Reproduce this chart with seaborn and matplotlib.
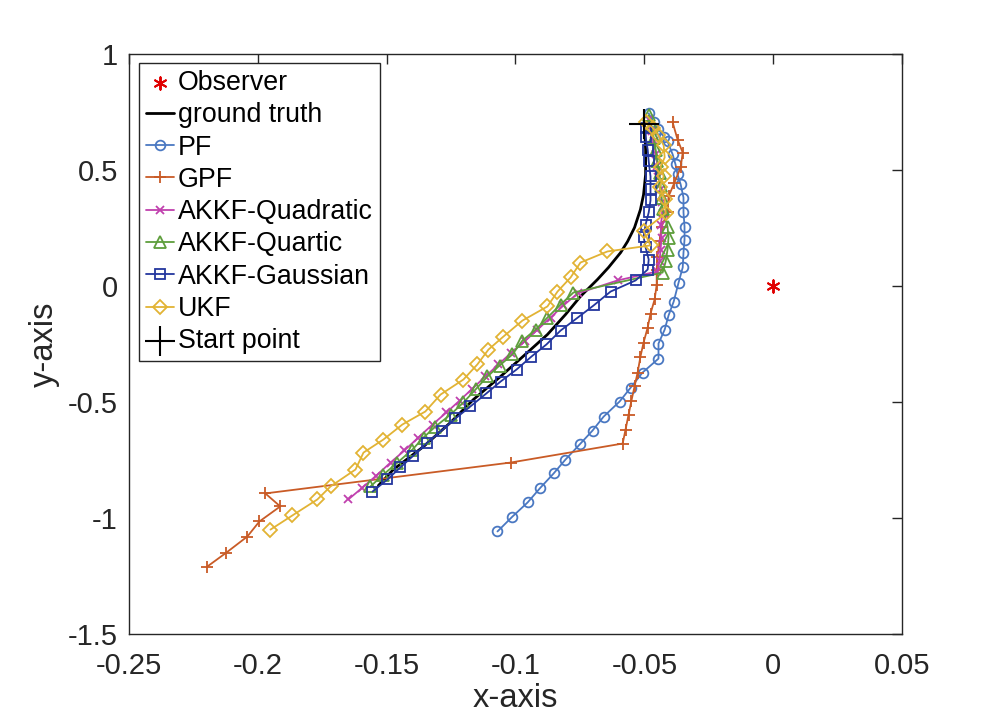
import matplotlib
matplotlib.use("Agg")
import matplotlib.pyplot as plt
import seaborn as sns
import pandas as pd

# ---------------- data ----------------
observer_x = [0.0]
observer_y = [0.0]

start_x = [-0.050]
start_y = [0.700]

gt_x = [-0.0500, -0.0495, -0.0495, -0.0503, -0.0515, -0.0538, -0.0565, -0.0592, -0.0639, -0.0682,
        -0.0748, -0.0806, -0.0876, -0.0954, -0.1058, -0.1163, -0.1252, -0.1357, -0.1474, -0.1532]
gt_y = [0.700, 0.588, 0.481, 0.394, 0.330, 0.252, 0.192, 0.144, 0.080, 0.028,
        -0.045, -0.123, -0.209, -0.287, -0.390, -0.489, -0.588, -0.692, -0.791, -0.860]

pf_x = [-0.0483, -0.0464, -0.0445, -0.0425, -0.0410, -0.0390, -0.0379, -0.0371, -0.0359, -0.0348,
        -0.0348, -0.0344, -0.0344, -0.0348, -0.0351, -0.0367, -0.0386, -0.0406, -0.0421, -0.0445,
        -0.0445, -0.0507, -0.0553, -0.0596, -0.0658, -0.0701, -0.0751, -0.0806, -0.0852, -0.0903,
        -0.0953, -0.1012, -0.1070]
pf_y = [0.744, 0.705, 0.675, 0.644, 0.623, 0.567, 0.524, 0.481, 0.438, 0.381,
        0.317, 0.256, 0.200, 0.144, 0.080, 0.015, -0.067, -0.127, -0.188, -0.248,
        -0.313, -0.373, -0.438, -0.498, -0.563, -0.623, -0.683, -0.748, -0.808, -0.869,
        -0.933, -0.994, -1.058]

gpf_x = [-0.0390, -0.0371, -0.0351, -0.0359, -0.0383, -0.0406, -0.0410, -0.0433, -0.0441, -0.0449,
         -0.0452, -0.0452, -0.0460, -0.0476, -0.0487, -0.0503, -0.0515, -0.0526, -0.0538, -0.0550,
         -0.0561, -0.0573, -0.0584, -0.1019, -0.1971, -0.1913, -0.1994, -0.2041, -0.2122, -0.2196]
gpf_y = [0.705, 0.631, 0.575, 0.511, 0.446, 0.386, 0.317, 0.256, 0.192, 0.127,
         0.067, 0.006, -0.058, -0.119, -0.179, -0.244, -0.304, -0.373, -0.433, -0.494,
         -0.554, -0.619, -0.679, -0.761, -0.894, -0.950, -1.015, -1.080, -1.149, -1.209]

quad_x = [-0.0483, -0.0472, -0.0464, -0.0456, -0.0449, -0.0445, -0.0437, -0.0433, -0.0429, -0.0437,
          -0.0433, -0.0437, -0.0441, -0.0449, -0.0604, -0.0759, -0.0814, -0.0864, -0.0915, -0.0965,
          -0.1016, -0.1066, -0.1117, -0.1167, -0.1217, -0.1268, -0.1322, -0.1377, -0.1431, -0.1485,
          -0.1540, -0.1594, -0.1649]
quad_y = [0.718, 0.670, 0.623, 0.571, 0.519, 0.468, 0.416, 0.364, 0.313, 0.261,
          0.209, 0.157, 0.106, 0.063, 0.024, -0.032, -0.084, -0.136, -0.188, -0.239,
          -0.287, -0.338, -0.390, -0.442, -0.494, -0.545, -0.597, -0.653, -0.709, -0.761,
          -0.817, -0.869, -0.920]

quart_x = [-0.0483, -0.0472, -0.0464, -0.0456, -0.0449, -0.0441, -0.0437, -0.0433, -0.0429, -0.0410,
           -0.0406, -0.0410, -0.0417, -0.0429, -0.0775, -0.0825, -0.0876, -0.0922, -0.0973, -0.1012,
           -0.1062, -0.1109, -0.1155, -0.1202, -0.1252, -0.1311, -0.1357, -0.1400, -0.1458, -0.1513,
           -0.1563]
quart_y = [0.735, 0.688, 0.640, 0.588, 0.537, 0.485, 0.433, 0.381, 0.330, 0.256,
           0.209, 0.157, 0.106, 0.058, -0.028, -0.080, -0.136, -0.188, -0.235, -0.295,
           -0.343, -0.390, -0.446, -0.502, -0.554, -0.606, -0.653, -0.705, -0.761, -0.813,
           -0.864]

gauss_x = [-0.0495, -0.0495, -0.0487, -0.0483, -0.0476, -0.0476, -0.0476, -0.0483, -0.0495, -0.0503,
           -0.0495, -0.0483, -0.0487, -0.0534, -0.0631, -0.0697, -0.0763, -0.0825, -0.0880, -0.0938,
           -0.0996, -0.1058, -0.1113, -0.1175, -0.1233, -0.1287, -0.1342, -0.1396, -0.1447, -0.1497,
           -0.1555]
gauss_y = [0.683, 0.644, 0.588, 0.537, 0.472, 0.416, 0.369, 0.317, 0.265, 0.213,
           0.166, 0.114, 0.071, 0.024, -0.024, -0.084, -0.140, -0.192, -0.252, -0.304,
           -0.360, -0.412, -0.463, -0.519, -0.571, -0.623, -0.675, -0.731, -0.782, -0.834,
           -0.886]

ukf_x = [-0.0495, -0.0468, -0.0445, -0.0425, -0.0421, -0.0437, -0.0425, -0.0441, -0.0421, -0.0417,
         -0.0503, -0.0476, -0.0643, -0.0748, -0.0786, -0.0837, -0.0876, -0.0973, -0.1047, -0.1105,
         -0.1148, -0.1202, -0.1291, -0.1350, -0.1439, -0.1513, -0.1590, -0.1621, -0.1718, -0.1769,
         -0.1866, -0.1951]
ukf_y = [0.709, 0.683, 0.649, 0.606, 0.554, 0.515, 0.472, 0.425, 0.373, 0.313,
         0.239, 0.175, 0.149, 0.101, 0.037, -0.024, -0.088, -0.149, -0.218, -0.274,
         -0.338, -0.403, -0.468, -0.541, -0.597, -0.662, -0.718, -0.791, -0.864, -0.920,
         -0.989, -1.050]

x_ticks = [-0.25, -0.2, -0.15, -0.1, -0.05, 0, 0.05]
x_tick_labels = ["-0.25", "-0.2", "-0.15", "-0.1", "-0.05", "0", "0.05"]
y_ticks = [-1.5, -1, -0.5, 0, 0.5, 1]
y_tick_labels = ["-1.5", "-1", "-0.5", "0", "0.5", "1"]

# ---------------- style ----------------
sns.set_style("white")
plt.rcParams["font.family"] = ["Liberation Sans", "DejaVu Sans"]
plt.rcParams["axes.unicode_minus"] = False

fig = plt.figure(figsize=(9.97, 7.19), dpi=100)
ax = fig.add_axes([0.1294, 0.1182, 0.7753, 0.8067])

c_pf = "#4A78C2"
c_gpf = "#C95B26"
c_quad = "#C040AE"
c_quart = "#5E9E3C"
c_gauss = "#23369E"
c_ukf = "#E2B334"

lw = 1.3
ms = 7

def draw(xs, ys, label, **kw):
    df = pd.DataFrame({"x": xs, "y": ys})
    sns.lineplot(data=df, x="x", y="y", sort=False, estimator=None, ax=ax,
                 label=label, **kw)

def draw_points(xs, ys, label, **kw):
    df = pd.DataFrame({"x": xs, "y": ys})
    sns.scatterplot(data=df, x="x", y="y", ax=ax, label=label, **kw)

draw_points(observer_x, observer_y, "Observer", color="#E00000", marker=(6, 2, 0),
            s=80, linewidths=1.4, zorder=5)
draw(gt_x, gt_y, "ground truth", color="black", linewidth=2.0)
draw(pf_x, pf_y, "PF", color=c_pf, linewidth=lw, marker="o", markersize=ms,
     markerfacecolor="none", markeredgecolor=c_pf, markeredgewidth=1.3)
draw(gpf_x, gpf_y, "GPF", color=c_gpf, linewidth=lw, marker="+", markersize=ms + 2,
     markeredgecolor=c_gpf, markeredgewidth=1.3)
draw(quad_x, quad_y, "AKKF-Quadratic", color=c_quad, linewidth=lw, marker="x", markersize=ms - 1,
     markeredgecolor=c_quad, markeredgewidth=1.3)
draw(quart_x, quart_y, "AKKF-Quartic", color=c_quart, linewidth=lw, marker="^", markersize=ms + 1,
     markerfacecolor="none", markeredgecolor=c_quart, markeredgewidth=1.3)
draw(gauss_x, gauss_y, "AKKF-Gaussian", color=c_gauss, linewidth=lw, marker="s", markersize=ms - 0.5,
     markerfacecolor="none", markeredgecolor=c_gauss, markeredgewidth=1.3)
draw(ukf_x, ukf_y, "UKF", color=c_ukf, linewidth=lw, marker="D", markersize=ms,
     markerfacecolor="none", markeredgecolor=c_ukf, markeredgewidth=1.3)
draw_points(start_x, start_y, "Start point", color="black", marker="+", s=450,
            linewidths=1.5, zorder=6)

ax.set_xlim(-0.25, 0.05)
ax.set_ylim(-1.5, 1.0)
ax.set_xticks(x_ticks)
ax.set_xticklabels(x_tick_labels)
ax.set_yticks(y_ticks)
ax.set_yticklabels(y_tick_labels)
ax.tick_params(direction="in", length=7, width=1.0, colors="#262626",
               labelsize=21, top=True, right=True, labelcolor="#262626")
ax.tick_params(axis="x", pad=13)
ax.tick_params(axis="y", pad=8)
for s in ax.spines.values():
    s.set_visible(True)
    s.set_color("#262626")
    s.set_linewidth(1.0)

ax.set_xlabel("x-axis", fontsize=23.5, color="#262626", labelpad=2)
ax.set_ylabel("y-axis", fontsize=23.5, color="#262626", labelpad=6)

leg = ax.legend(loc="upper left", bbox_to_anchor=(0.013, 0.984), borderaxespad=0,
                fontsize=19.3, frameon=True, fancybox=False, framealpha=1,
                edgecolor="#262626", handlelength=1.05, handletextpad=0.15,
                labelspacing=0.235, borderpad=0.25)
leg.get_frame().set_linewidth(1.0)
for t in leg.get_texts():
    t.set_color("black")

fig.savefig("out.png", dpi=100)
